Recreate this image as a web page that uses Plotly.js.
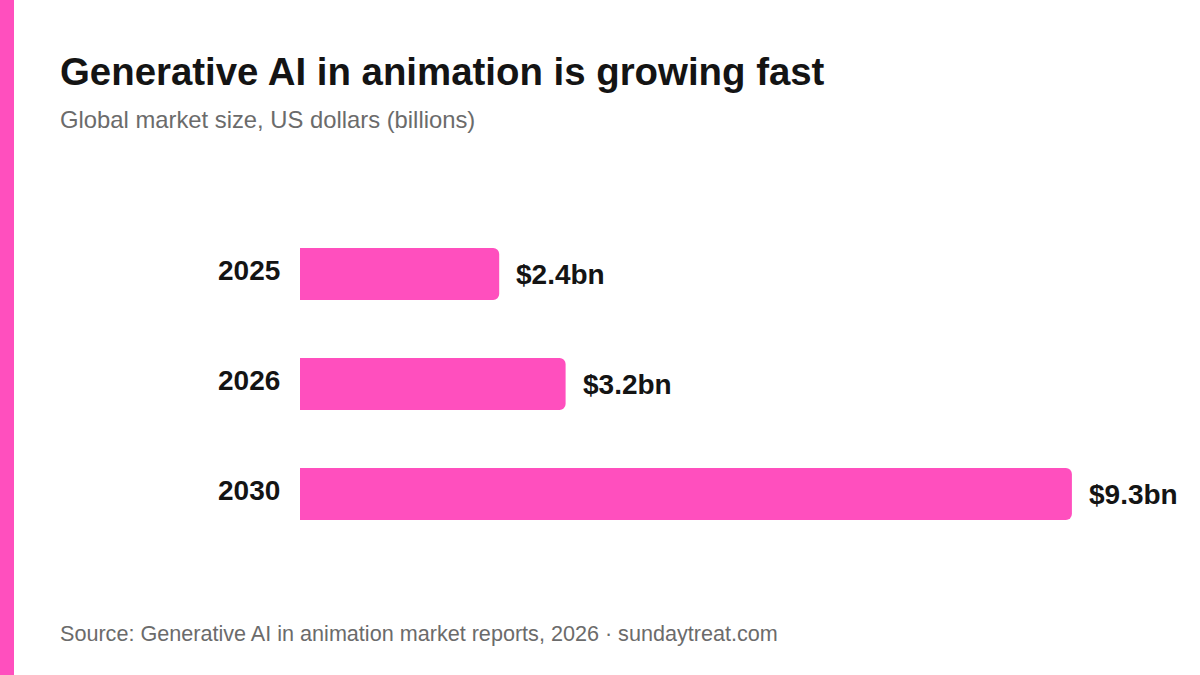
<!DOCTYPE html>
<html>
<head>
<meta charset="utf-8">
<script src="https://cdn.plot.ly/plotly-3.0.1.min.js"></script>
<style>
  html, body { margin: 0; padding: 0; background: #ffffff; }
  #wrap { position: relative; width: 1200px; height: 675px; overflow: hidden; }
  #stripe { position: absolute; left: 0; top: 0; width: 14px; height: 675px; background: #FF4FBE; z-index: 5; }
  #chart { position: absolute; left: 0; top: 0; width: 1200px; height: 675px; }
</style>
</head>
<body>
<div id="wrap">
  <div id="stripe"></div>
  <div id="chart"></div>
</div>
<script>
// Data
const years = ["2025", "2026", "2030"];
const marketSize = [2.4, 3.2, 9.3];
const valueLabels = ["$2.4bn", "$3.2bn", "$9.3bn"];

const titleText = "Generative AI in animation is growing fast";
const subtitleText = "Global market size, US dollars (billions)";
const sourceText = "Source: Generative AI in animation market reports, 2026 · sundaytreat.com";

// Layout constants
const W = 1200, H = 675;
const ML = 300, MR = 70, MT = 219, MB = 126;
const PW = W - ML - MR, PH = H - MT - MB;
const pink = "#FF4FBE";
const ink = "#141414";
const grey = "#6b6b6b";
const fontFam = "'Liberation Sans', Arial, Helvetica, sans-serif";

function px2x(px) { return (px - ML) / PW; }
function py2y(py) { return 1 - (py - MT) / PH; }

const rowIndex = years.map((_, i) => i);

const trace = {
  type: "bar",
  orientation: "h",
  x: marketSize,
  y: rowIndex,
  width: 0.473,
  marker: { color: pink, cornerradius: 6, line: { width: 0 } },
  hoverinfo: "skip",
  showlegend: false
};

const annotations = [];
rowIndex.forEach((r, i) => {
  annotations.push({
    x: marketSize[i], y: r, xref: "x", yref: "y",
    text: "<b>" + valueLabels[i] + "</b>", showarrow: false,
    xanchor: "left", yanchor: "middle", xshift: 15, yshift: 0,
    font: { family: fontFam, size: 28, color: ink }
  });
  annotations.push({
    x: 0, y: r, xref: "x", yref: "y",
    text: "<b>" + years[i] + "</b>", showarrow: false,
    xanchor: "right", yanchor: "middle", xshift: -18, yshift: 4,
    font: { family: fontFam, size: 28, color: ink }
  });
});
annotations.push({
  xref: "paper", yref: "paper", x: px2x(58), y: py2y(71),
  xanchor: "left", yanchor: "middle", showarrow: false,
  text: "<b>" + titleText + "</b>",
  font: { family: fontFam, size: 38.4, color: ink }
});
annotations.push({
  xref: "paper", yref: "paper", x: px2x(58), y: py2y(120),
  xanchor: "left", yanchor: "middle", showarrow: false,
  text: subtitleText,
  font: { family: fontFam, size: 23.8, color: grey }
});
annotations.push({
  xref: "paper", yref: "paper", x: px2x(58), y: py2y(633),
  xanchor: "left", yanchor: "middle", showarrow: false,
  text: sourceText,
  font: { family: fontFam, size: 21.6, color: grey }
});

const layout = {
  width: W, height: H,
  margin: { l: ML, r: MR, t: MT, b: MB, pad: 0 },
  paper_bgcolor: "#ffffff",
  plot_bgcolor: "#ffffff",
  xaxis: {
    range: [0, PW / 83],
    visible: false, showgrid: false, zeroline: false, fixedrange: true
  },
  yaxis: {
    range: [rowIndex.length - 0.5, -0.5],
    visible: false, showgrid: false, zeroline: false, fixedrange: true
  },
  annotations: annotations,
  font: { family: fontFam }
};

Plotly.newPlot("chart", [trace], layout, { displayModeBar: false, staticPlot: true });
</script>
</body>
</html>
